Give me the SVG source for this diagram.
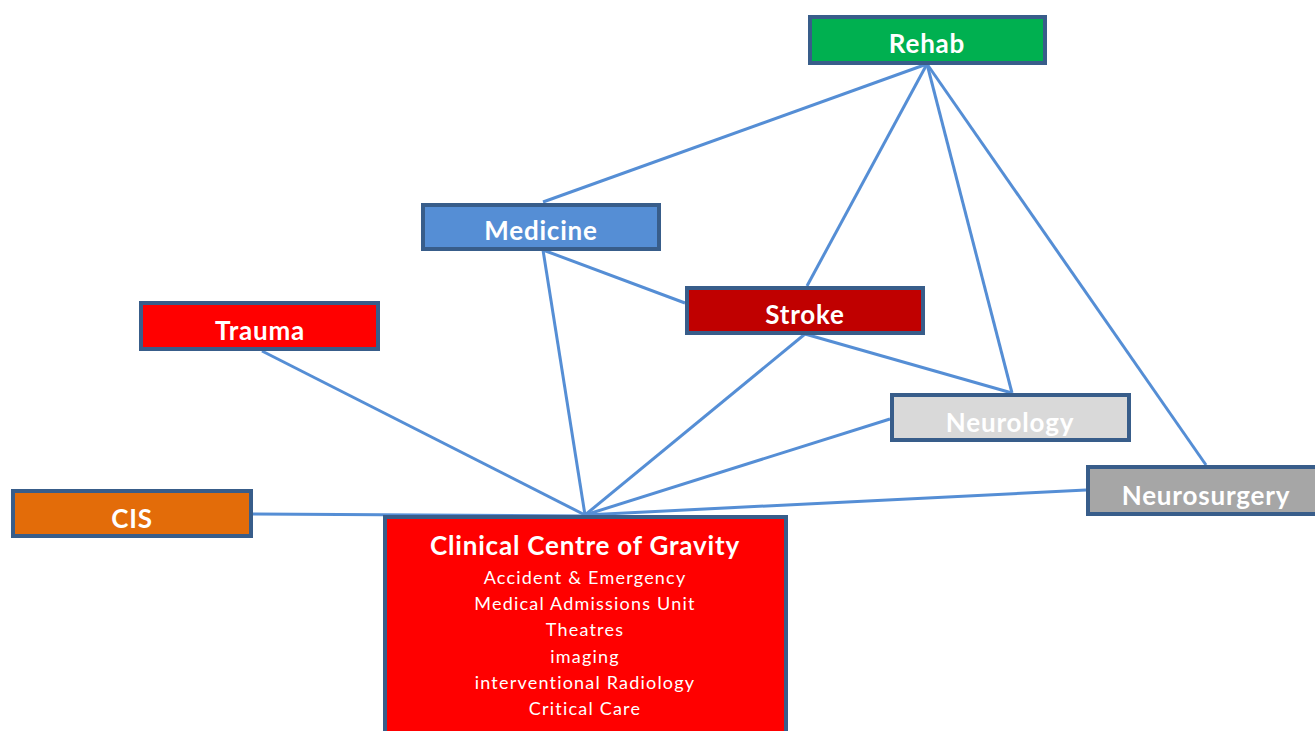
<svg xmlns="http://www.w3.org/2000/svg" width="1315" height="731" viewBox="0 0 1315 731">
<style>
.box{stroke:#385D8A;stroke-width:4;}
.lbl{font-family:Lato,"Liberation Sans",sans-serif;font-weight:bold;font-size:26px;letter-spacing:0.8px;fill:#fff;text-anchor:middle;}
.sub{font-family:Lato,"Liberation Sans",sans-serif;font-size:18px;letter-spacing:1.2px;fill:#fff;text-anchor:middle;}
#connectors line{stroke:#558ED5;stroke-width:3;}
</style>
<rect width="1315" height="731" fill="#fff"/>
<g id="connectors">
<line x1="927" y1="64" x2="543" y2="202"/>
<line x1="927" y1="64" x2="807" y2="286"/>
<line x1="927" y1="64" x2="1012" y2="393"/>
<line x1="927" y1="64" x2="1206" y2="465"/>
<line x1="543" y1="250" x2="585" y2="515"/>
<line x1="543" y1="250" x2="685" y2="303"/>
<line x1="805" y1="334" x2="585" y2="515"/>
<line x1="805" y1="334" x2="1012" y2="393"/>
<line x1="262" y1="351" x2="585" y2="515"/>
<line x1="890" y1="419" x2="585" y2="515"/>
<line x1="1086" y1="490" x2="585" y2="515"/>
<line x1="253" y1="514" x2="585" y2="516"/>
</g>
<g id="rehab"><rect class="box" x="810" y="17" width="235" height="46" fill="#00B050"/><text class="lbl" x="927" y="53">Rehab</text></g>
<g id="medicine"><rect class="box" x="423" y="205" width="236" height="44" fill="#558ED5"/><text class="lbl" x="541" y="240">Medicine</text></g>
<g id="stroke"><rect class="box" x="687" y="288" width="236" height="45" fill="#C00000"/><text class="lbl" x="805" y="324">Stroke</text></g>
<g id="trauma"><rect class="box" x="141" y="303" width="237" height="46" fill="#FF0000"/><text class="lbl" x="260" y="340">Trauma</text></g>
<g id="cis"><rect class="box" x="13" y="491" width="238" height="45" fill="#E36C09"/><text class="lbl" x="132" y="528">CIS</text></g>
<g id="neurology"><rect class="box" x="892" y="395" width="237" height="45" fill="#D9D9D9"/><text class="lbl" x="1010" y="432">Neurology</text></g>
<g id="neurosurgery"><rect class="box" x="1088" y="467" width="235" height="47" fill="#A6A6A6"/><text class="lbl" x="1206" y="505">Neurosurgery</text></g>
<g id="clinical"><rect class="box" x="385" y="517" width="401" height="220" fill="#FF0000"/>
<text class="lbl" x="585" y="555">Clinical Centre of Gravity</text>
<text class="sub" x="585" y="584">Accident &amp; Emergency</text>
<text class="sub" x="585" y="610">Medical Admissions Unit</text>
<text class="sub" x="585" y="636">Theatres</text>
<text class="sub" x="585" y="663">imaging</text>
<text class="sub" x="585" y="689">interventional Radiology</text>
<text class="sub" x="585" y="715">Critical Care</text>
</g>
</svg>
